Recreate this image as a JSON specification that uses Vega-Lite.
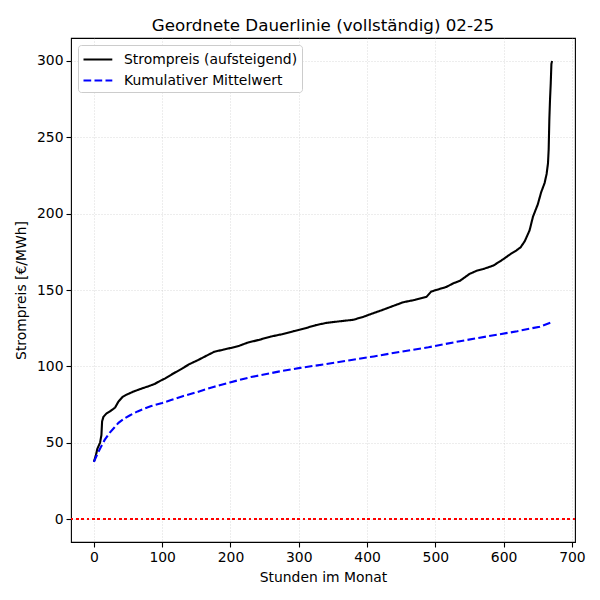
{
  "$schema": "https://vega.github.io/schema/vega-lite/v6.json",
  "autosize": "none",
  "width": 504,
  "height": 504,
  "padding": {"left": 71, "top": 38, "right": 25, "bottom": 58},
  "background": "white",
  "title": {"text": "Geordnete Dauerlinie (vollständig) 02-25", "font": "DejaVu Sans", "fontSize": 16.7, "fontWeight": "normal", "color": "black", "anchor": "middle", "offset": 3},
  "config": {
    "view": {"stroke": "black", "strokeWidth": 1.1},
    "axis": {
      "labelFont": "DejaVu Sans", "labelFontSize": 13.9, "labelColor": "black",
      "titleFont": "DejaVu Sans", "titleFontSize": 13.9, "titleFontWeight": "normal", "titleColor": "black",
      "tickColor": "black", "tickSize": 5, "tickWidth": 1.1, "labelPadding": 3,
      "domain": false,
      "grid": true, "gridColor": "#b0b0b0", "gridOpacity": 0.6, "gridDash": [1, 2], "gridWidth": 0.8
    },
    "legend": {
      "labelFont": "DejaVu Sans", "labelFontSize": 13.9, "labelColor": "black", "labelLimit": 400
    }
  },
  "data": {"values": [
    {"h": 0, "price": 37.5, "series": "Strompreis (aufsteigend)"},
    {"h": 3, "price": 42, "series": "Strompreis (aufsteigend)"},
    {"h": 5, "price": 46, "series": "Strompreis (aufsteigend)"},
    {"h": 9, "price": 50, "series": "Strompreis (aufsteigend)"},
    {"h": 11, "price": 55, "series": "Strompreis (aufsteigend)"},
    {"h": 12, "price": 64, "series": "Strompreis (aufsteigend)"},
    {"h": 14, "price": 67, "series": "Strompreis (aufsteigend)"},
    {"h": 18, "price": 69, "series": "Strompreis (aufsteigend)"},
    {"h": 25, "price": 71, "series": "Strompreis (aufsteigend)"},
    {"h": 31, "price": 73, "series": "Strompreis (aufsteigend)"},
    {"h": 36, "price": 77, "series": "Strompreis (aufsteigend)"},
    {"h": 42, "price": 80, "series": "Strompreis (aufsteigend)"},
    {"h": 48, "price": 81.5, "series": "Strompreis (aufsteigend)"},
    {"h": 58, "price": 83.5, "series": "Strompreis (aufsteigend)"},
    {"h": 67, "price": 85, "series": "Strompreis (aufsteigend)"},
    {"h": 80, "price": 87, "series": "Strompreis (aufsteigend)"},
    {"h": 89, "price": 88.5, "series": "Strompreis (aufsteigend)"},
    {"h": 97, "price": 90.5, "series": "Strompreis (aufsteigend)"},
    {"h": 104, "price": 92, "series": "Strompreis (aufsteigend)"},
    {"h": 115, "price": 95, "series": "Strompreis (aufsteigend)"},
    {"h": 127, "price": 98, "series": "Strompreis (aufsteigend)"},
    {"h": 140, "price": 101.5, "series": "Strompreis (aufsteigend)"},
    {"h": 152, "price": 104, "series": "Strompreis (aufsteigend)"},
    {"h": 165, "price": 107, "series": "Strompreis (aufsteigend)"},
    {"h": 176, "price": 109.5, "series": "Strompreis (aufsteigend)"},
    {"h": 190, "price": 111, "series": "Strompreis (aufsteigend)"},
    {"h": 200, "price": 112, "series": "Strompreis (aufsteigend)"},
    {"h": 213, "price": 113.5, "series": "Strompreis (aufsteigend)"},
    {"h": 225, "price": 115.5, "series": "Strompreis (aufsteigend)"},
    {"h": 243, "price": 117.5, "series": "Strompreis (aufsteigend)"},
    {"h": 259, "price": 119.5, "series": "Strompreis (aufsteigend)"},
    {"h": 275, "price": 121, "series": "Strompreis (aufsteigend)"},
    {"h": 292, "price": 123, "series": "Strompreis (aufsteigend)"},
    {"h": 310, "price": 125, "series": "Strompreis (aufsteigend)"},
    {"h": 325, "price": 127, "series": "Strompreis (aufsteigend)"},
    {"h": 341, "price": 128.5, "series": "Strompreis (aufsteigend)"},
    {"h": 360, "price": 129.5, "series": "Strompreis (aufsteigend)"},
    {"h": 380, "price": 130.5, "series": "Strompreis (aufsteigend)"},
    {"h": 395, "price": 132.5, "series": "Strompreis (aufsteigend)"},
    {"h": 404, "price": 134, "series": "Strompreis (aufsteigend)"},
    {"h": 420, "price": 136.5, "series": "Strompreis (aufsteigend)"},
    {"h": 438, "price": 139.5, "series": "Strompreis (aufsteigend)"},
    {"h": 453, "price": 142, "series": "Strompreis (aufsteigend)"},
    {"h": 470, "price": 143.5, "series": "Strompreis (aufsteigend)"},
    {"h": 487, "price": 145.5, "series": "Strompreis (aufsteigend)"},
    {"h": 494, "price": 149, "series": "Strompreis (aufsteigend)"},
    {"h": 505, "price": 150.5, "series": "Strompreis (aufsteigend)"},
    {"h": 516, "price": 152, "series": "Strompreis (aufsteigend)"},
    {"h": 527, "price": 154.5, "series": "Strompreis (aufsteigend)"},
    {"h": 536, "price": 156, "series": "Strompreis (aufsteigend)"},
    {"h": 550, "price": 160.5, "series": "Strompreis (aufsteigend)"},
    {"h": 560, "price": 162.5, "series": "Strompreis (aufsteigend)"},
    {"h": 570, "price": 163.7, "series": "Strompreis (aufsteigend)"},
    {"h": 585, "price": 166, "series": "Strompreis (aufsteigend)"},
    {"h": 599, "price": 170, "series": "Strompreis (aufsteigend)"},
    {"h": 610, "price": 173.5, "series": "Strompreis (aufsteigend)"},
    {"h": 619, "price": 176, "series": "Strompreis (aufsteigend)"},
    {"h": 625, "price": 178, "series": "Strompreis (aufsteigend)"},
    {"h": 631, "price": 182, "series": "Strompreis (aufsteigend)"},
    {"h": 638, "price": 189, "series": "Strompreis (aufsteigend)"},
    {"h": 643, "price": 198, "series": "Strompreis (aufsteigend)"},
    {"h": 650, "price": 206, "series": "Strompreis (aufsteigend)"},
    {"h": 655, "price": 214, "series": "Strompreis (aufsteigend)"},
    {"h": 660, "price": 220, "series": "Strompreis (aufsteigend)"},
    {"h": 663, "price": 226, "series": "Strompreis (aufsteigend)"},
    {"h": 665, "price": 233, "series": "Strompreis (aufsteigend)"},
    {"h": 666, "price": 242, "series": "Strompreis (aufsteigend)"},
    {"h": 667, "price": 262, "series": "Strompreis (aufsteigend)"},
    {"h": 668, "price": 275, "series": "Strompreis (aufsteigend)"},
    {"h": 669, "price": 285, "series": "Strompreis (aufsteigend)"},
    {"h": 670, "price": 298, "series": "Strompreis (aufsteigend)"},
    {"h": 671, "price": 300, "series": "Strompreis (aufsteigend)"},
    {"h": 0, "price": 37.5, "series": "Kumulativer Mittelwert"},
    {"h": 5, "price": 42.5, "series": "Kumulativer Mittelwert"},
    {"h": 10, "price": 47, "series": "Kumulativer Mittelwert"},
    {"h": 16, "price": 52, "series": "Kumulativer Mittelwert"},
    {"h": 23, "price": 56.5, "series": "Kumulativer Mittelwert"},
    {"h": 30, "price": 60, "series": "Kumulativer Mittelwert"},
    {"h": 36, "price": 63, "series": "Kumulativer Mittelwert"},
    {"h": 45, "price": 66, "series": "Kumulativer Mittelwert"},
    {"h": 53, "price": 68, "series": "Kumulativer Mittelwert"},
    {"h": 64, "price": 70.5, "series": "Kumulativer Mittelwert"},
    {"h": 75, "price": 72.5, "series": "Kumulativer Mittelwert"},
    {"h": 84, "price": 74, "series": "Kumulativer Mittelwert"},
    {"h": 100, "price": 76, "series": "Kumulativer Mittelwert"},
    {"h": 113, "price": 78, "series": "Kumulativer Mittelwert"},
    {"h": 130, "price": 80.5, "series": "Kumulativer Mittelwert"},
    {"h": 150, "price": 83, "series": "Kumulativer Mittelwert"},
    {"h": 175, "price": 86.5, "series": "Kumulativer Mittelwert"},
    {"h": 199, "price": 89.5, "series": "Kumulativer Mittelwert"},
    {"h": 230, "price": 93, "series": "Kumulativer Mittelwert"},
    {"h": 272, "price": 96.7, "series": "Kumulativer Mittelwert"},
    {"h": 302, "price": 99, "series": "Kumulativer Mittelwert"},
    {"h": 340, "price": 101.5, "series": "Kumulativer Mittelwert"},
    {"h": 375, "price": 104, "series": "Kumulativer Mittelwert"},
    {"h": 410, "price": 106.5, "series": "Kumulativer Mittelwert"},
    {"h": 448, "price": 109.5, "series": "Kumulativer Mittelwert"},
    {"h": 490, "price": 112.5, "series": "Kumulativer Mittelwert"},
    {"h": 536, "price": 116.5, "series": "Kumulativer Mittelwert"},
    {"h": 594, "price": 121, "series": "Kumulativer Mittelwert"},
    {"h": 620, "price": 123, "series": "Kumulativer Mittelwert"},
    {"h": 653, "price": 126, "series": "Kumulativer Mittelwert"},
    {"h": 671, "price": 129, "series": "Kumulativer Mittelwert"}
  ]},
  "layer": [
    {
      "mark": {"type": "rule", "color": "red", "strokeWidth": 2, "strokeDash": [2, 3.4]},
      "encoding": {"y": {"datum": 0, "type": "quantitative"}}
    },
    {
      "mark": {"type": "line", "strokeWidth": 2.1},
      "encoding": {
        "x": {
          "field": "h", "type": "quantitative", "title": "Stunden im Monat",
          "scale": {"domain": [-33.55, 704.55], "nice": false, "zero": false},
          "axis": {"values": [0, 100, 200, 300, 400, 500, 600, 700], "titlePadding": 7}
        },
        "y": {
          "field": "price", "type": "quantitative", "title": "Strompreis [€/MWh]",
          "scale": {"domain": [-15, 315], "nice": false, "zero": false},
          "axis": {"values": [0, 50, 100, 150, 200, 250, 300], "titlePadding": 8}
        },
        "color": {
          "field": "series", "type": "nominal", "title": null,
          "scale": {"domain": ["Strompreis (aufsteigend)", "Kumulativer Mittelwert"], "range": ["black", "blue"]},
          "legend": {
            "orient": "top-left", "offset": 7, "padding": 4, "rowPadding": 3,
            "symbolType": "M-1,0H2.2", "symbolSize": 324, "symbolStrokeWidth": 2.1, "labelOffset": 21,
            "strokeColor": "#cccccc", "fillColor": "white", "cornerRadius": 3
          }
        },
        "strokeDash": {
          "field": "series", "type": "nominal", "title": null,
          "scale": {"domain": ["Strompreis (aufsteigend)", "Kumulativer Mittelwert"], "range": [[1, 0], [7.7, 3.3]]}
        }
      }
    }
  ]
}
